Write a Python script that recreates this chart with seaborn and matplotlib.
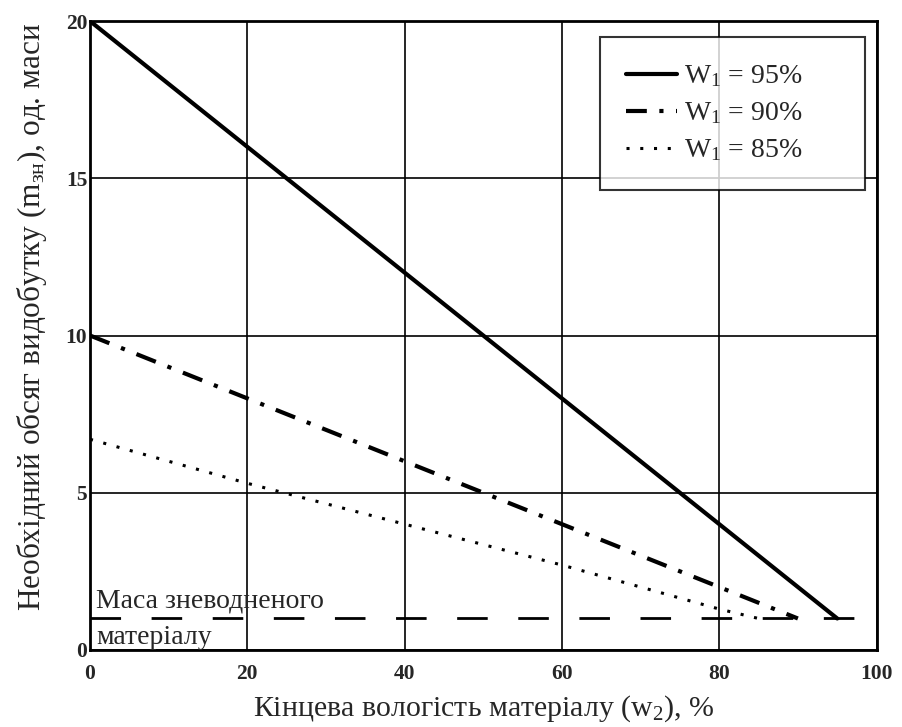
import numpy as np
import pandas as pd
import seaborn as sns
import matplotlib.pyplot as plt

#values
w2_95 = [0, 20, 40, 60, 80, 95]
m_95 = [20, 16, 12, 8, 4, 1]
w2_90 = [0, 20, 40, 60, 80, 90]
m_90 = [10, 8, 6, 4, 2, 1]
w2_85 = [0, 20, 40, 60, 80, 85]
m_85 = [6.7, 5.3, 4.0, 2.7, 1.3, 1]
dry_mass = 1
x_ticks = [0, 20, 40, 60, 80, 100]
y_ticks = [0, 5, 10, 15, 20]

sns.set_style("white")
plt.rcParams['font.family'] = ['Liberation Serif', 'DejaVu Serif']
plt.rcParams['mathtext.fontset'] = 'custom'
plt.rcParams['mathtext.rm'] = 'Liberation Serif'
plt.rcParams['mathtext.it'] = 'Liberation Serif'

fig = plt.figure(figsize=(9.02, 7.27), dpi=100)
ax = fig.add_axes([0.0998, 0.106, 0.872, 0.865])

sns.lineplot(x=w2_95, y=m_95, ax=ax, color="black", lw=3, label="W$_1$ = 95%")
sns.lineplot(x=w2_90, y=m_90, ax=ax, color="black", lw=3, linestyle=(0, (5, 3, 1, 3)), label="W$_1$ = 90%")
sns.lineplot(x=w2_85, y=m_85, ax=ax, color="black", lw=2.2, linestyle=(0, (1, 3.5)), label="W$_1$ = 85%")
ax.axhline(dry_mass, color="black", lw=2, linestyle=(0, (11, 11)))

#label for the dry mass line
ax.text(0.8, 1.34, "Маса зневодненого", fontsize=20, va="baseline")
ax.text(0.8, 0.2, "матеріалу", fontsize=20, va="baseline")

ax.set_xlim(0, 100)
ax.set_ylim(0, 20)
ax.set_xticks(x_ticks)
ax.set_yticks(y_ticks)
ax.grid(True, color="black", lw=1.2)
for s in ax.spines.values():
    s.set_color("black")
    s.set_linewidth(2)
ax.tick_params(axis="x", labelsize=15.5, length=0, pad=10)
ax.tick_params(axis="y", labelsize=15.5, length=0, pad=2)
for lab in ax.get_xticklabels() + ax.get_yticklabels():
    lab.set_fontweight("bold")

ax.set_xlabel("Кінцева вологість матеріалу (w$_2$), %", fontsize=21.5, labelpad=7)
ax.set_ylabel("Необхідний обсяг видобутку (m$_\\mathrm{зн}$), од. маси", fontsize=22.5)
ax.yaxis.set_label_coords(-0.052, 0.53)

leg = ax.legend(loc="upper left", bbox_to_anchor=(0.648, 0.738, 0.337, 0.2366), mode="expand",
                borderaxespad=0, fontsize=20, frameon=True, fancybox=False, edgecolor="black",
                handlelength=1.85, handletextpad=0.25, borderpad=0.95, labelspacing=0.4)
leg.get_frame().set_linewidth(1.5)

plt.savefig("out.png", dpi=100)
plt.close()
